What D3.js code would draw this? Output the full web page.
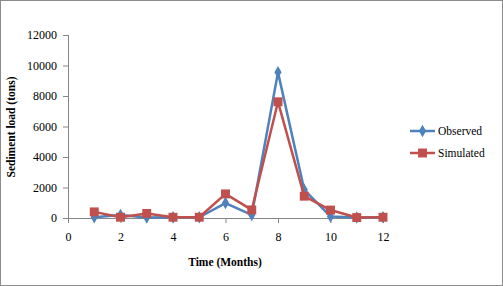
<!DOCTYPE html>
<html><head><meta charset="utf-8">
<script src="https://cdn.jsdelivr.net/npm/d3@7"></script>
<style>body{margin:0;background:#fff}svg{display:block}</style>
</head><body>
<script>
const months = [1,2,3,4,5,6,7,8,9,10,11,12];
const observed = [50,200,30,50,50,980,200,9550,1850,100,30,50];
const simulated = [400,50,300,50,50,1580,530,7620,1430,520,30,50];
const xTicks = [0,2,4,6,8,10,12];
const yTicks = [0,2000,4000,6000,8000,10000,12000];
const seriesNames = ["Observed","Simulated"];
const colors = ["#4F81BD","#C0504D"];

const W=503,H=286;
const svg=d3.select("body").append("svg").attr("width",W).attr("height",H);
svg.append("rect").attr("x",0.5).attr("y",0.5).attr("width",W-1).attr("height",H-1).attr("fill","#fff").attr("stroke","#8c8c8c");

const x=d3.scaleLinear().domain([0,12]).range([68,383]);
const y=d3.scaleLinear().domain([0,12000]).range([218,35]);
const font="'Liberation Serif','Times New Roman',serif";

const yAxis=svg.append("g").attr("transform","translate(68,0)")
  .call(d3.axisLeft(y).tickValues(yTicks).tickSize(5).tickPadding(6).tickFormat(d3.format("d")));
const xAxis=svg.append("g").attr("transform","translate(0,218)")
  .call(d3.axisBottom(x).tickValues(xTicks).tickSize(5).tickPadding(9).tickFormat(d3.format("d")));
[yAxis,xAxis].forEach(g=>{
  g.selectAll("path,line").attr("stroke","#868686");
  g.selectAll("text").attr("font-family",font).attr("font-size","12px").attr("fill","#000");
});
yAxis.select(".domain").attr("d","M0.5,35V218.5");
xAxis.select(".domain").attr("d","M68,0.5H383");

svg.append("text").attr("transform","translate(15,127) rotate(-90)").attr("text-anchor","middle")
  .attr("font-family",font).attr("font-weight","bold").attr("font-size","11.5px").text("Sediment load (tons)");
svg.append("text").attr("x",225).attr("y",266).attr("text-anchor","middle")
  .attr("font-family",font).attr("font-weight","bold").attr("font-size","11.5px").text("Time (Months)");

const data=[observed,simulated];
const line=d3.line().x((d,i)=>x(months[i])).y(d=>y(d));
const diamond=d3.symbol().type(d3.symbolDiamond).size(45);
const square=d3.symbol().type(d3.symbolSquare).size(80);
const shapes=[diamond,square];

data.forEach((vals,k)=>{
  svg.append("path").datum(vals).attr("d",line).attr("fill","none").attr("stroke",colors[k]).attr("stroke-width",2.5).attr("stroke-linejoin","round");
  svg.append("g").selectAll("path").data(vals).join("path")
    .attr("transform",(d,i)=>`translate(${x(months[i])},${y(d)})`)
    .attr("d",shapes[k]()).attr("fill",colors[k]);
});
const leg=svg.append("g");
seriesNames.forEach((n,k)=>{
  const ly=131+k*22;
  leg.append("line").attr("x1",410).attr("x2",435).attr("y1",ly).attr("y2",ly).attr("stroke",colors[k]).attr("stroke-width",2.5);
  leg.append("path").attr("transform",`translate(422.5,${ly})`).attr("d",shapes[k]()).attr("fill",colors[k]);
  leg.append("text").attr("x",438).attr("y",ly+4).attr("font-family",font).attr("font-size","11.5px").text(n);
});
</script>
</body></html>
